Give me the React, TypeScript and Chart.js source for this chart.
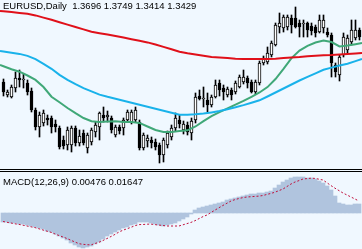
import React, { useEffect, useRef } from "react";
import { Chart, registerables } from "chart.js";

Chart.register(...registerables);

// ---------- Data (EURUSD Daily) ----------
const symbolLabel = "EURUSD,Daily";
const headerQuote = ["1.3696", "1.3749", "1.3414", "1.3429"];
const macdLabel = "MACD(12,26,9) 0.00476 0.01647";

const openP = [
  1.318, 1.305, 1.303, 1.312, 1.322, 1.320, 1.317, 1.309, 1.290, 1.273,
  1.277, 1.282, 1.282, 1.276, 1.272, 1.260, 1.255, 1.255, 1.272, 1.257,
  1.267, 1.252, 1.258, 1.268, 1.273, 1.285, 1.283, 1.282, 1.265, 1.273,
  1.272, 1.280, 1.278, 1.280, 1.278, 1.252, 1.259, 1.260, 1.258, 1.255,
  1.245, 1.255, 1.263, 1.272, 1.280, 1.270, 1.275, 1.267, 1.280, 1.304,
  1.301, 1.300, 1.295, 1.303, 1.317, 1.312, 1.305, 1.310, 1.308, 1.313,
  1.318, 1.322, 1.318, 1.308, 1.317, 1.337, 1.338, 1.345, 1.355, 1.373,
  1.372, 1.373, 1.382, 1.382, 1.377, 1.376, 1.377, 1.374, 1.373, 1.368,
  1.372, 1.368, 1.365, 1.335, 1.325, 1.345, 1.350, 1.358, 1.362, 1.370,
];
const highP = [
  1.321, 1.310, 1.315, 1.328, 1.330, 1.326, 1.320, 1.312, 1.292, 1.288,
  1.290, 1.285, 1.284, 1.280, 1.274, 1.264, 1.273, 1.274, 1.274, 1.270,
  1.270, 1.267, 1.272, 1.278, 1.288, 1.293, 1.289, 1.284, 1.275, 1.275,
  1.282, 1.290, 1.290, 1.293, 1.280, 1.267, 1.265, 1.263, 1.261, 1.257,
  1.262, 1.269, 1.275, 1.287, 1.285, 1.279, 1.278, 1.282, 1.307, 1.310,
  1.313, 1.307, 1.305, 1.320, 1.320, 1.315, 1.313, 1.312, 1.319, 1.325,
  1.330, 1.324, 1.320, 1.320, 1.339, 1.344, 1.353, 1.359, 1.377, 1.387,
  1.385, 1.385, 1.385, 1.393, 1.380, 1.380, 1.378, 1.377, 1.375, 1.385,
  1.385, 1.372, 1.367, 1.337, 1.345, 1.367, 1.365, 1.380, 1.380, 1.372,
];
const lowP = [
  1.304, 1.303, 1.302, 1.308, 1.313, 1.312, 1.305, 1.288, 1.270, 1.263,
  1.274, 1.275, 1.267, 1.268, 1.251, 1.251, 1.250, 1.248, 1.254, 1.254,
  1.255, 1.247, 1.255, 1.263, 1.260, 1.278, 1.278, 1.267, 1.263, 1.266,
  1.265, 1.278, 1.276, 1.278, 1.250, 1.250, 1.253, 1.252, 1.250, 1.237,
  1.238, 1.252, 1.260, 1.269, 1.272, 1.266, 1.265, 1.260, 1.277, 1.300,
  1.293, 1.288, 1.293, 1.302, 1.304, 1.300, 1.303, 1.300, 1.306, 1.312,
  1.316, 1.312, 1.307, 1.306, 1.315, 1.335, 1.336, 1.343, 1.354, 1.367,
  1.368, 1.370, 1.367, 1.372, 1.363, 1.363, 1.363, 1.365, 1.363, 1.367,
  1.367, 1.363, 1.323, 1.323, 1.319, 1.343, 1.346, 1.355, 1.360, 1.360,
];
const closeP = [
  1.308, 1.308, 1.313, 1.322, 1.320, 1.321, 1.308, 1.290, 1.273, 1.285,
  1.287, 1.280, 1.273, 1.273, 1.253, 1.254, 1.270, 1.272, 1.257, 1.264,
  1.257, 1.265, 1.270, 1.275, 1.287, 1.282, 1.285, 1.270, 1.273, 1.269,
  1.280, 1.288, 1.288, 1.290, 1.252, 1.265, 1.262, 1.257, 1.253, 1.245,
  1.260, 1.267, 1.272, 1.282, 1.276, 1.276, 1.268, 1.279, 1.303, 1.301,
  1.302, 1.295, 1.303, 1.315, 1.310, 1.308, 1.311, 1.305, 1.317, 1.323,
  1.323, 1.317, 1.308, 1.318, 1.337, 1.342, 1.347, 1.357, 1.375, 1.377,
  1.383, 1.383, 1.375, 1.373, 1.373, 1.377, 1.370, 1.369, 1.367, 1.380,
  1.380, 1.365, 1.337, 1.328, 1.343, 1.363, 1.362, 1.370, 1.370, 1.363,
];

// moving averages sampled every 2nd bar (plus the two chart edges)
const maRed = [
  1.389, 1.3887, 1.3879, 1.3871, 1.3863, 1.3846, 1.3824, 1.3802, 1.3778, 1.3754,
  1.373, 1.3706, 1.3683, 1.3668, 1.3654, 1.3639, 1.3624, 1.3608, 1.3592, 1.3576,
  1.3555, 1.3531, 1.3507, 1.3483, 1.3468, 1.3455, 1.3442, 1.3429, 1.3424, 1.3419,
  1.3413, 1.341, 1.341, 1.341, 1.341, 1.3413, 1.3419, 1.3424, 1.3429, 1.3438,
  1.3443, 1.3448, 1.345, 1.3456, 1.3461, 1.3466, 1.347,
];
const maBlue = [
  1.349, 1.3485, 1.3473, 1.3461, 1.3441, 1.3408, 1.3361, 1.3312, 1.3252, 1.3202,
  1.3158, 1.3118, 1.3086, 1.3054, 1.3032, 1.3012, 1.2992, 1.2972, 1.2952, 1.2932,
  1.2912, 1.2892, 1.2872, 1.2852, 1.2853, 1.2857, 1.2864, 1.2876, 1.2889, 1.2907,
  1.2927, 1.2949, 1.2973, 1.2997, 1.3035, 1.3075, 1.3115, 1.3155, 1.3195, 1.3231,
  1.3267, 1.3302, 1.3324, 1.3345, 1.3363, 1.3389, 1.341,
];
const maGreen = [
  1.335, 1.3338, 1.3307, 1.3283, 1.3245, 1.3201, 1.313, 1.3033, 1.2977, 1.292,
  1.2868, 1.282, 1.2788, 1.278, 1.2784, 1.2788, 1.278, 1.278, 1.2771, 1.2735,
  1.27, 1.268, 1.2681, 1.2689, 1.2697, 1.2735, 1.2788, 1.2838, 1.2879, 1.2916,
  1.2954, 1.2991, 1.3032, 1.3075, 1.3129, 1.321, 1.3312, 1.3419, 1.3494, 1.3542,
  1.3575, 1.3594, 1.358, 1.3536, 1.3544, 1.3558, 1.357,
];

const macdHist = [
  -0.0045, -0.0045, -0.005, -0.005, -0.0055, -0.0055, -0.006, -0.0065, -0.007, -0.0075,
  -0.008, -0.009, -0.0095, -0.0105, -0.0115, -0.0125, -0.0135, -0.015, -0.016, -0.017,
  -0.0175, -0.017, -0.0165, -0.0155, -0.0145, -0.013, -0.0115, -0.0105, -0.0095, -0.0085,
  -0.0075, -0.007, -0.006, -0.0055, -0.0045, -0.0045, -0.0045, -0.005, -0.0055, -0.006,
  -0.0065, -0.006, -0.0055, -0.005, -0.004, -0.003, -0.002, -0.0005, 0.0015, 0.0025,
  0.003, 0.0035, 0.004, 0.0045, 0.005, 0.0055, 0.0065, 0.007, 0.0075, 0.008,
  0.0085, 0.009, 0.0095, 0.0095, 0.01, 0.01, 0.0105, 0.011, 0.0125, 0.014,
  0.0155, 0.0165, 0.0175, 0.018, 0.018, 0.018, 0.0175, 0.0175, 0.017, 0.016,
  0.015, 0.0135, 0.0115, 0.0085, 0.005, 0.0045, 0.004, 0.004, 0.0045, 0.0045,
];
const macdSignal = [
  -0.00425, -0.00465, -0.005, -0.0054, -0.0057, -0.0061, -0.0065, -0.0069, -0.0073, -0.0079,
  -0.0085, -0.0091, -0.00965, -0.0105, -0.01125, -0.012, -0.01275, -0.01365, -0.0145, -0.01535,
  -0.01565, -0.01585, -0.01595, -0.01525, -0.01465, -0.01375, -0.01275, -0.01175, -0.0107, -0.0095,
  -0.0086, -0.0079, -0.00715, -0.00635, -0.0058, -0.00575, -0.0056, -0.00555, -0.0058, -0.00605,
  -0.00625, -0.0065, -0.0065, -0.0065, -0.0065, -0.0059, -0.0053, -0.0047, -0.00385, -0.0028,
  -0.0018, -0.001, 0.00025, 0.00145, 0.00265, 0.0038, 0.0049, 0.006, 0.0067, 0.00725,
  0.0077, 0.008, 0.00815, 0.0083, 0.00845, 0.00875, 0.0093, 0.0098, 0.0104, 0.0112,
  0.012, 0.01325, 0.0145, 0.0155, 0.0162, 0.017, 0.0172, 0.0174, 0.0173, 0.0169,
  0.0165, 0.0151, 0.0137, 0.0124, 0.0112, 0.01, 0.009, 0.008, 0.007, 0.006,
];

// ---------- Layout / style ----------
const W = 362;
const H = 249;
const MAIN_H = 168;
const MACD_TOP = 172;
const MACD_H = H - MACD_TOP;
const BG = "#f0f8ff";
const FONT = '"Liberation Sans", Arial, sans-serif';

export default function App() {
  const mainRef = useRef<HTMLCanvasElement>(null);
  const macdRef = useRef<HTMLCanvasElement>(null);

  useEffect(() => {
    document.body.style.margin = "0";
    const n = openP.length;
    const idx = openP.map((_, i) => i);
    const maIdx: number[] = [-0.875];
    for (let k = 0; k <= 88; k += 2) maIdx.push(k);
    maIdx.push(89.625);

    const wicks = idx.map((i) => ({ x: i, y: [lowP[i], highP[i]] }));
    const bodies = idx.map((i) => ({
      x: i,
      y: [Math.min(openP[i], closeP[i]), Math.max(openP[i], closeP[i])],
    }));
    const bodyFill = idx.map((i) => (closeP[i] >= openP[i] ? "#ffffff" : "#000000"));
    const ma = (vals: number[]) => vals.map((v, k) => ({ x: maIdx[k], y: v }));

    const lineDs = (vals: number[], color: string, order: number) => ({
      type: "line" as const,
      data: ma(vals),
      borderColor: color,
      borderWidth: 2,
      pointRadius: 0,
      tension: 0,
      fill: false,
      order,
    });

    const main = new Chart(mainRef.current!, {
      type: "bar",
      data: {
        datasets: [
          lineDs(maRed, "#e0101a", 0),
          lineDs(maBlue, "#19b2ea", 0),
          lineDs(maGreen, "#40a878", 0),
          {
            type: "bar",
            data: bodies as any,
            backgroundColor: bodyFill,
            borderColor: "#000000",
            borderWidth: 1,
            borderSkipped: false,
            barThickness: 3,
            grouped: false,
            minBarLength: 1,
            order: 1,
          } as any,
          {
            type: "bar",
            data: wicks as any,
            backgroundColor: "#000000",
            borderWidth: 0,
            barThickness: 1,
            grouped: false,
            order: 2,
          } as any,
        ],
      },
      options: {
        animation: false,
        responsive: false,
        devicePixelRatio: 1,
        events: [],
        layout: { padding: 0 },
        plugins: { legend: { display: false }, tooltip: { enabled: false }, title: { display: false } },
        scales: {
          x: { type: "linear", min: -0.875, max: n - 0.375, offset: false, display: false },
          y: { type: "linear", min: 1.232, max: 1.4, display: false },
        },
      },
    });

    const macd = new Chart(macdRef.current!, {
      type: "bar",
      data: {
        datasets: [
          {
            type: "line",
            data: macdSignal.map((v, i) => ({ x: i, y: v })),
            borderColor: "#c0103c",
            borderWidth: 1,
            borderDash: [2, 2],
            pointRadius: 0,
            tension: 0,
            fill: false,
            order: 0,
          } as any,
          {
            type: "bar",
            data: macdHist.map((v, i) => ({ x: i, y: v })),
            backgroundColor: "#b0c4de",
            borderWidth: 0,
            barThickness: 4,
            grouped: false,
            order: 1,
          } as any,
        ],
      },
      options: {
        animation: false,
        responsive: false,
        devicePixelRatio: 1,
        events: [],
        layout: { padding: 0 },
        plugins: { legend: { display: false }, tooltip: { enabled: false } },
        scales: {
          x: { type: "linear", min: -0.75, max: n - 0.25, offset: false, display: false },
          y: { type: "linear", min: -0.018, max: 0.0205, display: false },
        },
      },
    });

    return () => {
      main.destroy();
      macd.destroy();
    };
  }, []);

  const textStyle: React.CSSProperties = {
    position: "absolute",
    left: 3,
    fontFamily: FONT,
    fontSize: 9.5,
    lineHeight: "11px",
    color: "#000",
    whiteSpace: "pre",
    zIndex: 2,
  };

  return (
    <div
      style={{
        position: "fixed",
        left: 0,
        top: 0,
        width: W,
        height: H,
        background: BG,
        overflow: "hidden",
      }}
    >
      <canvas
        ref={mainRef}
        width={W}
        height={MAIN_H}
        style={{ position: "absolute", left: 0, top: 0, width: W, height: MAIN_H }}
      />
      <div style={{ position: "absolute", left: 0, top: 169, width: W, height: 1, background: "#000" }} />
      <div style={{ position: "absolute", left: 0, top: 171, width: W, height: 1, background: "#000" }} />
      <canvas
        ref={macdRef}
        width={W}
        height={MACD_H}
        style={{ position: "absolute", left: 0, top: MACD_TOP, width: W, height: MACD_H }}
      />
      <div style={{ ...textStyle, top: 0 }}>{symbolLabel + "  " + headerQuote.join(" ")}</div>
      <div style={{ ...textStyle, top: 176 }}>{macdLabel}</div>
    </div>
  );
}
